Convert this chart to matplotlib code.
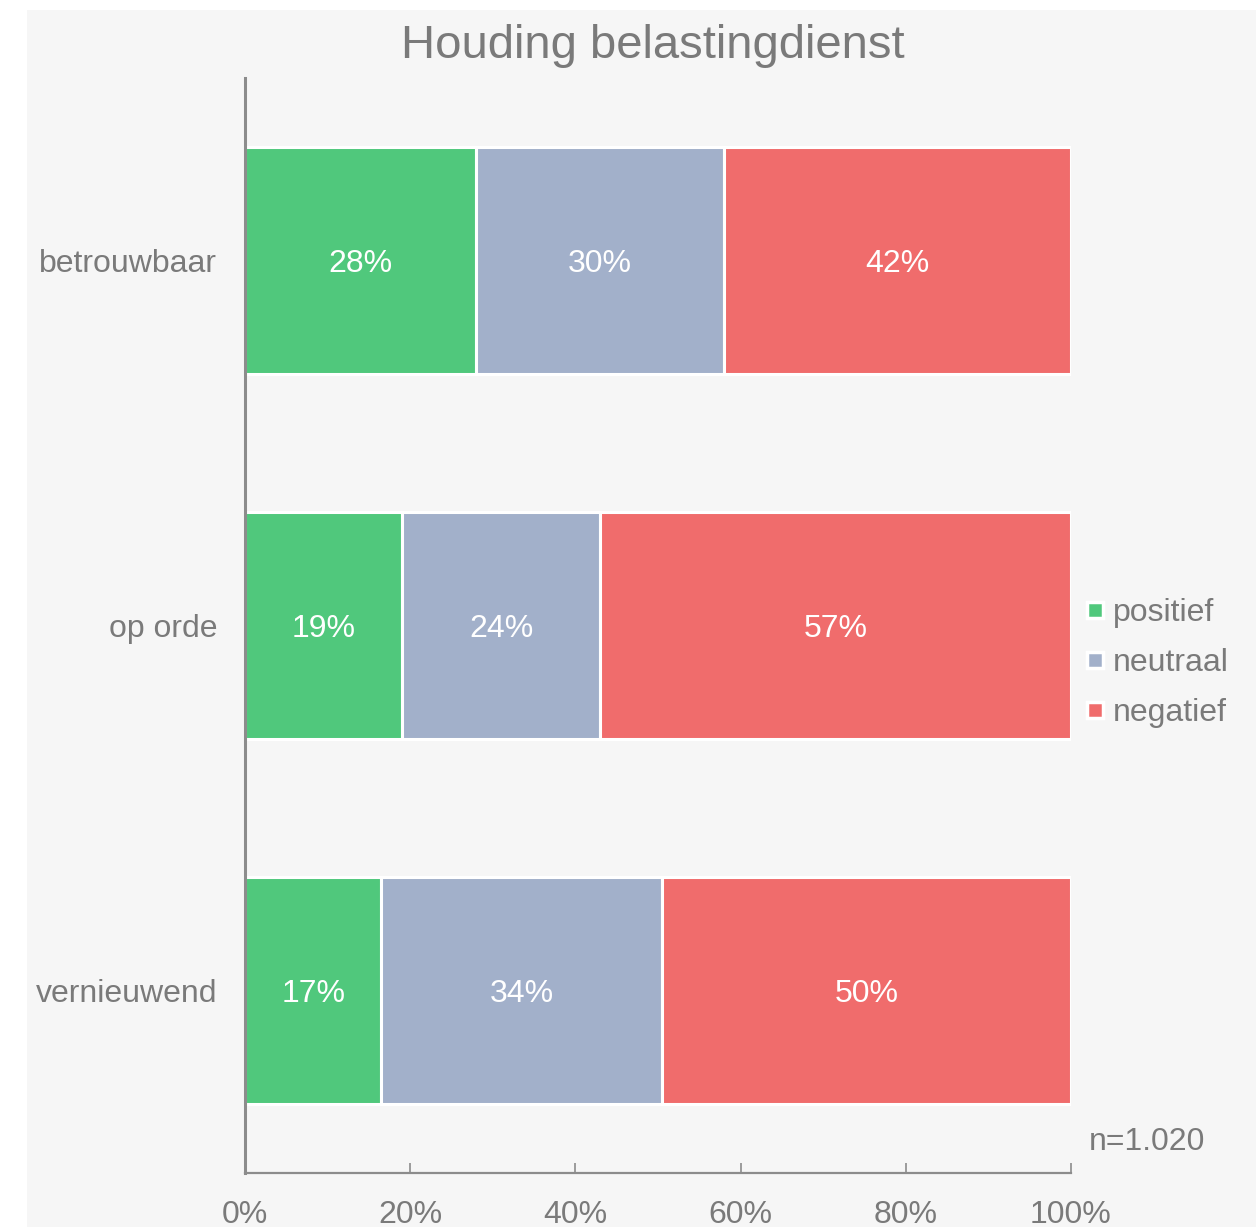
import matplotlib.pyplot as plt
from matplotlib.patches import Rectangle
from matplotlib.lines import Line2D
import numpy as np

plt.rcParams['font.family'] = ['Liberation Sans', 'DejaVu Sans']

# data (percentages)
categories = ["betrouwbaar", "op orde", "vernieuwend"]
series_names = ["positief", "neutraal", "negatief"]
positief = [28, 19, 16.5]
neutraal = [30, 24, 34]
negatief = [42, 57, 49.5]
label_pos = ["28%", "19%", "17%"]
label_neu = ["30%", "24%", "34%"]
label_neg = ["42%", "57%", "50%"]
x_ticks = [0, 20, 40, 60, 80, 100]
x_ticklabels = ["0%", "20%", "40%", "60%", "80%", "100%"]
title = "Houding belastingdienst"
note = "n=1.020"

colors = ["#50c87c", "#a2b0ca", "#f06c6c"]
text_gray = "#7a7a7a"
axis_gray = "#8c8c8c"
bg = "#f6f6f6"

fig = plt.figure(figsize=(12.56, 12.27), dpi=100)
fig.patch.set_facecolor("white")
fig.patches.append(Rectangle((27 / 1256, 0), 1 - 27 / 1256, 1 - 10 / 1227,
                             transform=fig.transFigure, facecolor=bg,
                             edgecolor="none", zorder=-5))

ax = fig.add_axes([245 / 1256, 1 - 1173 / 1227, (1071 - 245) / 1256, (1173 - 78) / 1227])
ax.set_facecolor("none")
ax.set_zorder(2)

y = np.arange(len(categories))
series = [positief, neutraal, negatief]
labels = [label_pos, label_neu, label_neg]
left = np.zeros(len(categories))
for vals, labs, col, name in zip(series, labels, colors, series_names):
    bars = ax.barh(y, vals, left=left, height=0.62, color=col,
                   edgecolor="white", linewidth=2.2, label=name, zorder=2)
    txts = ax.bar_label(bars, labels=labs, label_type="center", color="white",
                        fontsize=23)
    for t in txts:
        t.set_va("center_baseline")
    left = left + np.array(vals)

ax.set_xlim(0, 100)
ax.set_ylim(2.5, -0.5)
ax.set_yticks(y)
ax.set_yticklabels(categories, fontsize=23, color=text_gray)
ax.tick_params(axis="y", length=0, pad=20)
ax.set_xticks(x_ticks)
ax.set_xticklabels(x_ticklabels, fontsize=23, color=text_gray)
ax.tick_params(axis="x", direction="in", length=7.5, width=1.2, color=axis_gray, pad=19.5)

for s in ["top", "right"]:
    ax.spines[s].set_visible(False)
ax.spines["left"].set_color(axis_gray)
ax.spines["left"].set_linewidth(2.2)
ax.spines["bottom"].set_color(axis_gray)
ax.spines["bottom"].set_linewidth(1.6)

fig.text(653 / 1256, 1 - 46 / 1227, title, ha="center", va="center",
         fontsize=34, color=text_gray)
fig.text(1089 / 1256, 1 - 1142 / 1227, note, ha="left", va="center",
         fontsize=23, color=text_gray)

handles = [Line2D([], [], marker="s", linestyle="none", markersize=11,
                  markerfacecolor=c, markeredgecolor="white", markeredgewidth=2.5)
           for c in colors]
leg = fig.legend(handles, series_names, loc="center left",
                 bbox_to_anchor=(1071 / 1256, 1 - 663 / 1227),
                 frameon=False, fontsize=23, handlelength=0.5,
                 handletextpad=0.3, labelspacing=0.63, borderpad=0)
for t in leg.get_texts():
    t.set_color(text_gray)

fig.savefig("out.png", dpi=100)
